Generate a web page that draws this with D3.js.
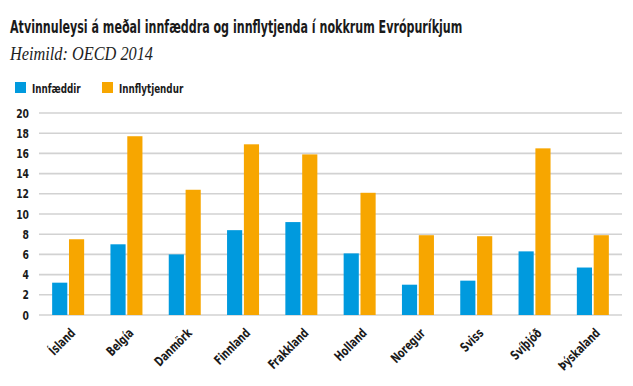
<!DOCTYPE html>
<html>
<head>
<meta charset="utf-8">
<script src="https://cdn.jsdelivr.net/npm/d3@7"></script>
<style>
    body { margin: 0; background: #fff; }
    .cond { font-family: "Liberation Sans Narrow", "DejaVu Sans Condensed", sans-serif; font-weight: bold; }
</style>
</head>
<body>
<script>
// Chart data
var countries = ["Ísland", "Belgía", "Danmörk", "Finnland", "Frakkland", "Holland", "Noregur", "Sviss", "Svíþjóð", "Þýskaland"];
var seriesNames = ["Innfæddir", "Innflytjendur"];
var natives = [3.2, 7.0, 6.0, 8.4, 9.2, 6.1, 3.0, 3.4, 6.3, 4.7];
var immigrants = [7.5, 17.7, 12.4, 16.9, 15.9, 12.1, 7.9, 7.8, 16.5, 7.9];
var yTicks = [0, 2, 4, 6, 8, 10, 12, 14, 16, 18, 20];

var colors = ["#009ade", "#f7a600"];

// Squeeze text horizontally, the reference uses a narrow face
function condense(sel, factor){
    sel.each(function(){
        var len = this.getComputedTextLength();
        d3.select(this)
            .attr("textLength", len * factor)
            .attr("lengthAdjust", "spacingAndGlyphs");
    });
}

window.onload = function(){

    var w = 633, h = 386;
    var left = 39, right = 622, top = 113, bottom = 315;

    var svg = d3.select("body")
        .append("svg")
        .attr("width", w)
        .attr("height", h);

    // Title, scaled down to the narrow width of the original face
    var title = svg.append("text")
        .attr("class", "cond")
        .style("font-size", "17.5px")
        .style("fill", "#1a1a1a")
        .text("Atvinnuleysi á meðal innfæddra og innflytjenda í nokkrum Evrópuríkjum");
    var sx = 453 / title.node().getComputedTextLength();
    title.attr("transform", "translate(10,33) scale(" + sx + ",1)");

    // Source
    svg.append("text")
        .attr("x", 10)
        .attr("y", 60)
        .style("font-family", "'Liberation Serif', serif")
        .style("font-style", "italic")
        .style("font-size", "18px")
        .style("fill", "#222")
        .text("Heimild: OECD 2014")
        .attr("textLength", 143)
        .attr("lengthAdjust", "spacingAndGlyphs");

    // Legend
    var legendX = [15, 102];
    var legend = svg.selectAll(".legend")
        .data(seriesNames)
        .enter()
        .append("g")
        .attr("class", "legend")
        .attr("transform", function(d, i){ return "translate(" + legendX[i] + ",82)"; });
    legend.append("rect")
        .attr("width", 11)
        .attr("height", 11)
        .style("fill", function(d, i){ return colors[i]; });
    legend.append("text")
        .attr("class", "cond")
        .attr("x", 17)
        .attr("y", 10.5)
        .style("font-size", "12.5px")
        .style("fill", "#1a1a1a")
        .text(function(d){ return d; })
        .call(condense, 0.78);

    // Scales
    var x0 = d3.scaleBand()
        .domain(countries)
        .range([left, right]);

    var x1 = d3.scaleBand()
        .domain(seriesNames)
        .range([x0.bandwidth() / 2 - 16, x0.bandwidth() / 2 + 16])
        .paddingInner(0.1);

    var y = d3.scaleLinear()
        .domain([0, 20])
        .range([bottom, top]);

    // Gridlines
    svg.append("g")
        .selectAll("line")
        .data(yTicks)
        .enter()
        .append("line")
        .attr("x1", left)
        .attr("x2", right)
        .attr("y1", function(d){ return y(d); })
        .attr("y2", function(d){ return y(d); })
        .style("stroke", "#d2d2d2")
        .style("stroke-width", 1.6);

    // Y axis labels
    var yAxis = d3.axisLeft(y)
        .tickValues(yTicks)
        .tickSize(0)
        .tickPadding(10);
    var yg = svg.append("g")
        .attr("transform", "translate(" + left + ",0)")
        .call(yAxis);
    yg.select(".domain").remove();
    yg.selectAll("text")
        .attr("class", "cond")
        .style("font-size", "12.5px")
        .style("fill", "#1a1a1a")
        .call(condense, 0.82);

    // Bars
    var rows = countries.map(function(c, i){
        return { country: c, values: [natives[i], immigrants[i]] };
    });

    var groups = svg.selectAll(".group")
        .data(rows)
        .enter()
        .append("g")
        .attr("class", "group")
        .attr("transform", function(d){ return "translate(" + x0(d.country) + ",0)"; });

    groups.selectAll("rect")
        .data(function(d){ return d.values.map(function(v, i){ return { key: seriesNames[i], value: v, i: i }; }); })
        .enter()
        .append("rect")
        .attr("x", function(d){ return x1(d.key); })
        .attr("width", x1.bandwidth())
        .attr("y", function(d){ return y(d.value); })
        .attr("height", function(d){ return bottom - y(d.value); })
        .style("fill", function(d){ return colors[d.i]; });

    // X axis labels
    svg.selectAll(".xlabel")
        .data(countries)
        .enter()
        .append("text")
        .attr("class", "cond xlabel")
        .attr("text-anchor", "end")
        .attr("transform", function(d){
            var cx = x0(d) + x0.bandwidth() / 2 + 8;
            return "translate(" + cx + ",334) rotate(-45)";
        })
        .style("font-size", "13px")
        .style("fill", "#1a1a1a")
        .text(function(d){ return d; })
        .call(condense, 0.78);
};
</script>
</body>
</html>
